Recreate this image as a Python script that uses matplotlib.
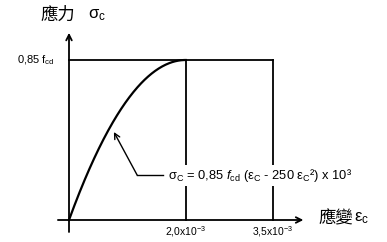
import numpy as np
import matplotlib
matplotlib.use("Agg")
import matplotlib.pyplot as plt

plt.rcParams['font.family'] = ['Liberation Sans', 'Noto Sans CJK TC', 'DejaVu Sans']
plt.rcParams['mathtext.fontset'] = 'custom'
plt.rcParams['mathtext.rm'] = 'Liberation Sans'
plt.rcParams['mathtext.it'] = 'Liberation Sans:italic'

# strain in units of 1e-3, stress as fraction of 0.85 fcd
eps_peak = 2.0
eps_ult = 3.5
coef = 250  # from sigma = 0.85 fcd (eps - 250 eps^2) x 10^3
tick_pos = [2.0, 3.5]
tick_labels = ['2,0x10$^{-3}$', '3,5x10$^{-3}$']
y_label = '0,85 f$_{\\mathrm{cd}}$'
formula = 'σ$_\\mathrm{C}$ = 0,85 $f$$_\\mathrm{cd}$ (ε$_\\mathrm{C}$ - 250 ε$_\\mathrm{C}$²) x 10³'

# parabola from the formula shown in the chart (eps in 1e-3 units)
eps = np.linspace(0, eps_peak, 200)
sigma = eps - coef * 1e-3 * eps ** 2

fig = plt.figure(figsize=(3.87, 2.42), dpi=100)
ax = fig.add_axes([0, 0, 1, 1])
sx = 58.3
sy = 160.0
ax.set_xlim(-69 / sx, (387 - 69) / sx)
ax.set_ylim(-(242 - 220) / sy, 1 + 60 / sy)
ax.axis('off')

lw = 1.3
# axes with arrows
ax.annotate('', xy=(0, 1.17), xytext=(0, -0.075),
            arrowprops=dict(arrowstyle='->', lw=lw, color='black', shrinkA=0, shrinkB=0))
ax.annotate('', xy=(4.02, 0), xytext=(-0.19, 0),
            arrowprops=dict(arrowstyle='->', lw=lw, color='black', shrinkA=0, shrinkB=0))

# curve and plateau
ax.plot(eps, sigma, color='black', lw=1.6)
ax.plot([0, eps_ult], [1, 1], color='black', lw=lw)
for xp in tick_pos:
    ax.plot([xp, xp], [0, 1], color='black', lw=lw)

for xp, lab in zip(tick_pos, tick_labels):
    ax.text(xp, -0.075, lab, ha='center', va='center', fontsize=7.5)

ax.text(-0.25, 1, y_label, ha='right', va='center', fontsize=8)

# formula with leader arrow
ax.text(1.70, 0.28, formula, ha='left', va='center', fontsize=9.3,
        bbox=dict(facecolor='white', edgecolor='none', pad=1.5))
ax.plot([1.17, 1.61], [0.28, 0.28], color='black', lw=1.0)
ax.annotate('', xy=(0.77, 0.55), xytext=(1.17, 0.28),
            arrowprops=dict(arrowstyle='->', lw=1.0, color='black', shrinkA=0, shrinkB=0))

# axis titles
fig.text(40 / 387, 1 - 15 / 242, '應力', fontsize=12.5, va='center', ha='left',
         family=['Noto Sans CJK TC'])
fig.text(88 / 387, 1 - 15 / 242, 'σ$_\\mathrm{c}$', fontsize=12, va='center', ha='left')
fig.text(318 / 387, 1 - 218 / 242, '應變', fontsize=12.5, va='center', ha='left',
         family=['Noto Sans CJK TC'])
fig.text(354 / 387, 1 - 218 / 242, 'ε$_\\mathrm{c}$', fontsize=12, va='center', ha='left')

fig.savefig('out.png', dpi=100)
